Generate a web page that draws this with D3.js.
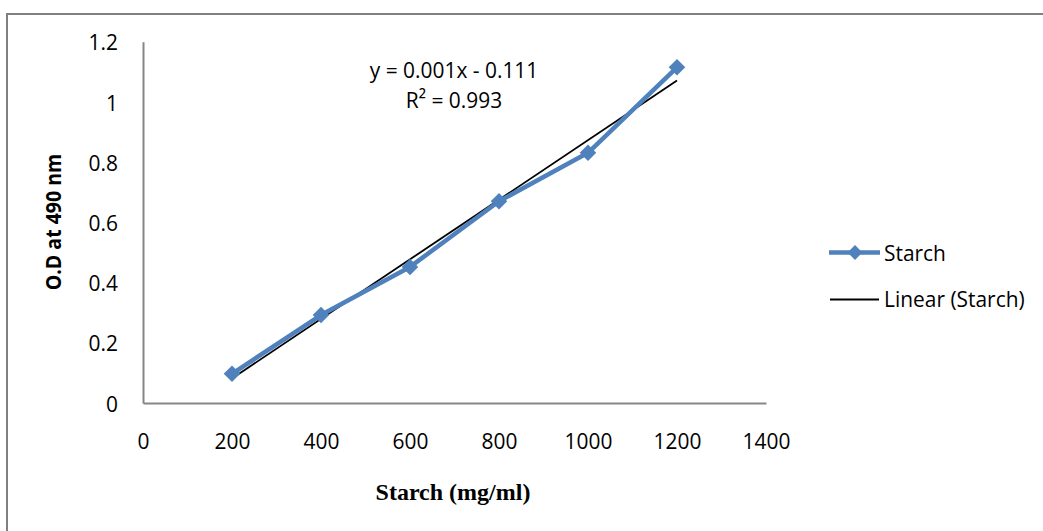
<!DOCTYPE html>
<html>
<head>
<meta charset="utf-8">
<script src="https://cdn.jsdelivr.net/npm/d3@7/dist/d3.min.js"></script>
<style>
  html, body { margin: 0; padding: 0; background: #fff; }
  svg { display: block; }
  .sans { font-family: "Open Sans", Lato, sans-serif; fill: #000; }
  .serif { font-family: "Liberation Serif", "Times New Roman", serif; font-weight: bold; fill: #000; }
</style>
</head>
<body>
<svg id="chart" width="1043" height="531"></svg>
<script>
// Starch standard curve: concentration vs optical density
const concentrations = [200, 400, 600, 800, 1000, 1200];
const opticalDensity = [0.097, 0.292, 0.452, 0.670, 0.831, 1.115];
const xTicks = [0, 200, 400, 600, 800, 1000, 1200, 1400];
const yTicks = [0, 0.2, 0.4, 0.6, 0.8, 1, 1.2];
const equationLines = ["y = 0.001x - 0.111", "R\u00B2 = 0.993"];
const legendLabels = ["Starch", "Linear (Starch)"];
const xTitle = "Starch (mg/ml)";
const yTitle = "O.D at 490 nm";

const W = 1043, H = 531;
const plot = { left: 143, right: 766, top: 41.7, bottom: 403 };
const blue = "#4F81BD";
const axisGray = "#868686";
const squeeze = 0.93;
const fontSize = 22.5;

const svg = d3.select("#chart");

// outer chart frame (top and left edges)
svg.append("path")
  .attr("d", `M7,${H} L7,14 L${W},14`)
  .attr("fill", "none")
  .attr("stroke", "#808080")
  .attr("stroke-width", 2);

const x = d3.scaleLinear().domain([0, 1400]).range([plot.left, plot.right]);
const y = d3.scaleLinear().domain([0, 1.2]).range([plot.bottom, plot.top]);

// axes
const xAxis = svg.append("g")
  .attr("transform", `translate(0,${plot.bottom})`)
  .call(d3.axisBottom(x).tickValues(xTicks).tickSize(0).tickPadding(30).tickFormat(d3.format("d")));
const yAxis = svg.append("g")
  .attr("transform", `translate(${plot.left},0)`)
  .call(d3.axisLeft(y).tickValues(yTicks).tickSize(0).tickFormat(d => String(+d.toFixed(1))));

[xAxis, yAxis].forEach(g => {
  g.select(".domain").attr("stroke", axisGray).attr("stroke-width", 2);
  g.selectAll("text").attr("class", "sans").attr("font-size", fontSize)
    .attr("font-family", null);
});
xAxis.selectAll("text").attr("transform", `scale(${squeeze},1)`);
yAxis.selectAll("text").attr("x", 0).attr("dy", "0.36em")
  .attr("transform", `translate(-25,0) scale(${squeeze},1)`);

// least-squares trendline computed from the series
const mx = d3.mean(concentrations), my = d3.mean(opticalDensity);
const sxy = d3.sum(concentrations, (c, i) => (c - mx) * (opticalDensity[i] - my));
const sxx = d3.sum(concentrations, c => (c - mx) * (c - mx));
const slope = sxy / sxx, intercept = my - slope * mx;
const xMin = d3.min(concentrations), xMax = d3.max(concentrations);

svg.append("line")
  .attr("x1", x(xMin)).attr("y1", y(slope * xMin + intercept))
  .attr("x2", x(xMax)).attr("y2", y(slope * xMax + intercept))
  .attr("stroke", "#000").attr("stroke-width", 1.8);

// data series
const pts = concentrations.map((c, i) => [c, opticalDensity[i]]);
svg.append("path")
  .datum(pts)
  .attr("d", d3.line().x(d => x(d[0])).y(d => y(d[1])))
  .attr("fill", "none")
  .attr("stroke", blue)
  .attr("stroke-width", 4.5)
  .attr("stroke-linejoin", "round");

const diamond = d3.symbol().type(d3.symbolDiamond2).size(175);
svg.selectAll(".marker").data(pts).join("path")
  .attr("class", "marker")
  .attr("d", diamond)
  .attr("transform", d => `translate(${x(d[0])},${y(d[1])})`)
  .attr("fill", blue);

// regression equation
svg.selectAll(".eq").data(equationLines).join("text")
  .attr("class", "eq sans")
  .attr("font-size", fontSize)
  .attr("text-anchor", "middle")
  .attr("transform", (d, i) => `translate(454,${78 + i * 30}) scale(${squeeze},1)`)
  .text(d => d);

// legend
const legend = svg.append("g");
legend.append("line").attr("x1", 829).attr("x2", 880).attr("y1", 252.5).attr("y2", 252.5)
  .attr("stroke", blue).attr("stroke-width", 4.5);
legend.append("path").attr("d", d3.symbol().type(d3.symbolDiamond2).size(140))
  .attr("transform", "translate(855,252.5)").attr("fill", blue);
legend.append("line").attr("x1", 830).attr("x2", 879).attr("y1", 299.5).attr("y2", 299.5)
  .attr("stroke", "#000").attr("stroke-width", 1.8);
legend.selectAll("text").data(legendLabels).join("text")
  .attr("class", "sans")
  .attr("font-size", fontSize)
  .attr("transform", (d, i) => `translate(884,${261 + i * 46}) scale(${squeeze},1)`)
  .text(d => d);

// axis titles
svg.append("text")
  .attr("class", "serif")
  .attr("font-size", 24)
  .attr("text-anchor", "middle")
  .attr("x", 453).attr("y", 500)
  .text(xTitle);

svg.append("text")
  .attr("class", "sans")
  .attr("font-size", 21)
  .attr("font-weight", "bold")
  .attr("text-anchor", "middle")
  .attr("transform", `translate(61,222) rotate(-90) scale(${squeeze},1)`)
  .text(yTitle);
</script>
</body>
</html>
